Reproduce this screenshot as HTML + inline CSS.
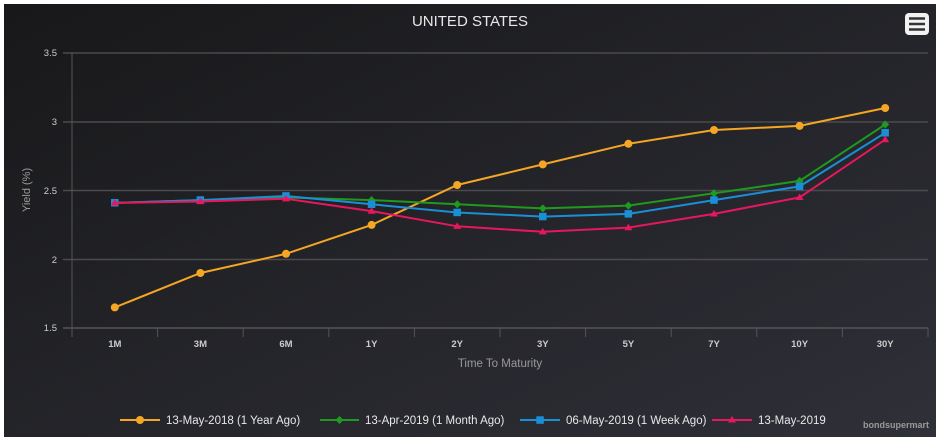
<!DOCTYPE html>
<html><head><meta charset="utf-8"><style>
html,body{margin:0;padding:0;background:#fff;width:939px;height:443px;overflow:hidden}
svg{display:block;font-family:"Liberation Sans","DejaVu Sans",sans-serif}
</style></head><body>
<svg width="939" height="443" viewBox="0 0 939 443">
<defs><linearGradient id="bg" x1="0" y1="0" x2="1" y2="1">
<stop offset="0" stop-color="#18181a"/><stop offset="1" stop-color="#2f3038"/></linearGradient></defs>
<rect x="4" y="4" width="932" height="433" fill="url(#bg)"/>
<text x="470" y="26" fill="#e8e8e8" font-size="15" text-anchor="middle">UNITED STATES</text>
<rect x="905" y="13" width="24" height="22" rx="4" fill="#f2f2f2"/>
<g stroke="#333" stroke-width="2.5"><line x1="909" y1="18.5" x2="925" y2="18.5"/><line x1="909" y1="24" x2="925" y2="24"/><line x1="909" y1="29.5" x2="925" y2="29.5"/></g>
<g stroke="#4a4a4f" stroke-width="1.5">
<line x1="63" y1="53" x2="928" y2="53"/><line x1="63" y1="122" x2="928" y2="122"/>
<line x1="63" y1="190.5" x2="928" y2="190.5"/><line x1="63" y1="259.5" x2="928" y2="259.5"/></g>
<line x1="72" y1="53" x2="72" y2="328" stroke="#555" stroke-width="1"/>
<line x1="63" y1="328" x2="928" y2="328" stroke="#555" stroke-width="1.5"/>
<g stroke="#555" stroke-width="1">
<line x1="72" y1="328" x2="72" y2="337"/><line x1="157.6" y1="328" x2="157.6" y2="337"/><line x1="243.2" y1="328" x2="243.2" y2="337"/><line x1="328.8" y1="328" x2="328.8" y2="337"/><line x1="414.4" y1="328" x2="414.4" y2="337"/><line x1="500" y1="328" x2="500" y2="337"/><line x1="585.6" y1="328" x2="585.6" y2="337"/><line x1="671.2" y1="328" x2="671.2" y2="337"/><line x1="756.8" y1="328" x2="756.8" y2="337"/><line x1="842.4" y1="328" x2="842.4" y2="337"/><line x1="928" y1="328" x2="928" y2="337"/></g>
<g fill="#ccc" font-size="9.5" text-anchor="end">
<text x="57" y="56">3.5</text><text x="57" y="125">3</text><text x="57" y="194">2.5</text><text x="57" y="263">2</text><text x="57" y="331">1.5</text></g>
<g fill="#ccc" font-size="9.5" font-weight="bold" text-anchor="middle">
<text x="114.8" y="347">1M</text><text x="200.4" y="347">3M</text><text x="286" y="347">6M</text><text x="371.6" y="347">1Y</text><text x="457.2" y="347">2Y</text><text x="542.8" y="347">3Y</text><text x="628.4" y="347">5Y</text><text x="714" y="347">7Y</text><text x="799.6" y="347">10Y</text><text x="885.2" y="347">30Y</text></g>
<text x="500" y="367" fill="#999" font-size="11.5" text-anchor="middle">Time To Maturity</text>
<text transform="translate(30,190) rotate(-90)" fill="#999" font-size="11" text-anchor="middle">Yield (%)</text>
<polyline fill="none" stroke="#f5a623" stroke-width="2" points="114.8,307.4 200.4,273 286,253.8 371.6,224.9 457.2,185 542.8,164.4 628.4,143.8 714,130 799.6,125.9 885.2,108"/>
<g fill="#f5a623"><circle cx="114.8" cy="307.4" r="4"/><circle cx="200.4" cy="273" r="4"/><circle cx="286" cy="253.8" r="4"/><circle cx="371.6" cy="224.9" r="4"/><circle cx="457.2" cy="185" r="4"/><circle cx="542.8" cy="164.4" r="4"/><circle cx="628.4" cy="143.8" r="4"/><circle cx="714" cy="130" r="4"/><circle cx="799.6" cy="125.9" r="4"/><circle cx="885.2" cy="108" r="4"/></g>
<polyline fill="none" stroke="#1f9a1f" stroke-width="2" points="114.8,202.9 200.4,200.1 286,197.4 371.6,200.1 457.2,204.3 542.8,208.4 628.4,205.6 714,193.3 799.6,180.9 885.2,124.5"/>
<g fill="#1f9a1f"><path d="M114.8 198.9l4 4-4 4-4-4z"/><path d="M200.4 196.1l4 4-4 4-4-4z"/><path d="M286 193.4l4 4-4 4-4-4z"/><path d="M371.6 196.1l4 4-4 4-4-4z"/><path d="M457.2 200.3l4 4-4 4-4-4z"/><path d="M542.8 204.4l4 4-4 4-4-4z"/><path d="M628.4 201.6l4 4-4 4-4-4z"/><path d="M714 189.3l4 4-4 4-4-4z"/><path d="M799.6 176.9l4 4-4 4-4-4z"/><path d="M885.2 120.5l4 4-4 4-4-4z"/></g>
<polyline fill="none" stroke="#1a8fd6" stroke-width="2" points="114.8,202.9 200.4,200.1 286,196 371.6,204.3 457.2,212.5 542.8,216.6 628.4,213.9 714,200.1 799.6,186.4 885.2,132.8"/>
<g fill="#1a8fd6"><rect x="111" y="199" width="7.5" height="7.5"/><rect x="196.6" y="196.3" width="7.5" height="7.5"/><rect x="282.2" y="192.2" width="7.5" height="7.5"/><rect x="367.8" y="200.5" width="7.5" height="7.5"/><rect x="453.4" y="208.7" width="7.5" height="7.5"/><rect x="539" y="212.8" width="7.5" height="7.5"/><rect x="624.6" y="210.1" width="7.5" height="7.5"/><rect x="710.2" y="196.3" width="7.5" height="7.5"/><rect x="795.8" y="182.6" width="7.5" height="7.5"/><rect x="881.4" y="129" width="7.5" height="7.5"/></g>
<polyline fill="none" stroke="#e8175d" stroke-width="2" points="114.8,202.9 200.4,201.5 286,198.8 371.6,211.1 457.2,226.3 542.8,231.8 628.4,227.6 714,213.9 799.6,197.4 885.2,139.6"/>
<g fill="#e8175d"><path d="M114.8 199l4 6.5h-8z"/><path d="M200.4 197.6l4 6.5h-8z"/><path d="M286 194.9l4 6.5h-8z"/><path d="M371.6 207.2l4 6.5h-8z"/><path d="M457.2 222.4l4 6.5h-8z"/><path d="M542.8 227.9l4 6.5h-8z"/><path d="M628.4 223.7l4 6.5h-8z"/><path d="M714 210l4 6.5h-8z"/><path d="M799.6 193.5l4 6.5h-8z"/><path d="M885.2 135.7l4 6.5h-8z"/></g>
<g font-size="11.5" fill="#e8e8e8">
<line x1="120" y1="420" x2="160" y2="420" stroke="#f5a623" stroke-width="2"/><circle cx="140" cy="420" r="4" fill="#f5a623"/><text x="166" y="424">13-May-2018 (1 Year Ago)</text>
<line x1="320" y1="420" x2="359" y2="420" stroke="#1f9a1f" stroke-width="2"/><path d="M339.5 416l4 4-4 4-4-4z" fill="#1f9a1f"/><text x="365" y="424">13-Apr-2019 (1 Month Ago)</text>
<line x1="520" y1="420" x2="560" y2="420" stroke="#1a8fd6" stroke-width="2"/><rect x="536.3" y="416.3" width="7.5" height="7.5" fill="#1a8fd6"/><text x="566" y="424">06-May-2019 (1 Week Ago)</text>
<line x1="712" y1="420" x2="752" y2="420" stroke="#e8175d" stroke-width="2"/><path d="M732 416l4 6.5h-8z" fill="#e8175d"/><text x="758" y="424">13-May-2019</text>
</g>
<text x="929" y="428" fill="#999" font-size="9" font-weight="bold" text-anchor="end">bondsupermart</text>
</svg>
</body></html>
